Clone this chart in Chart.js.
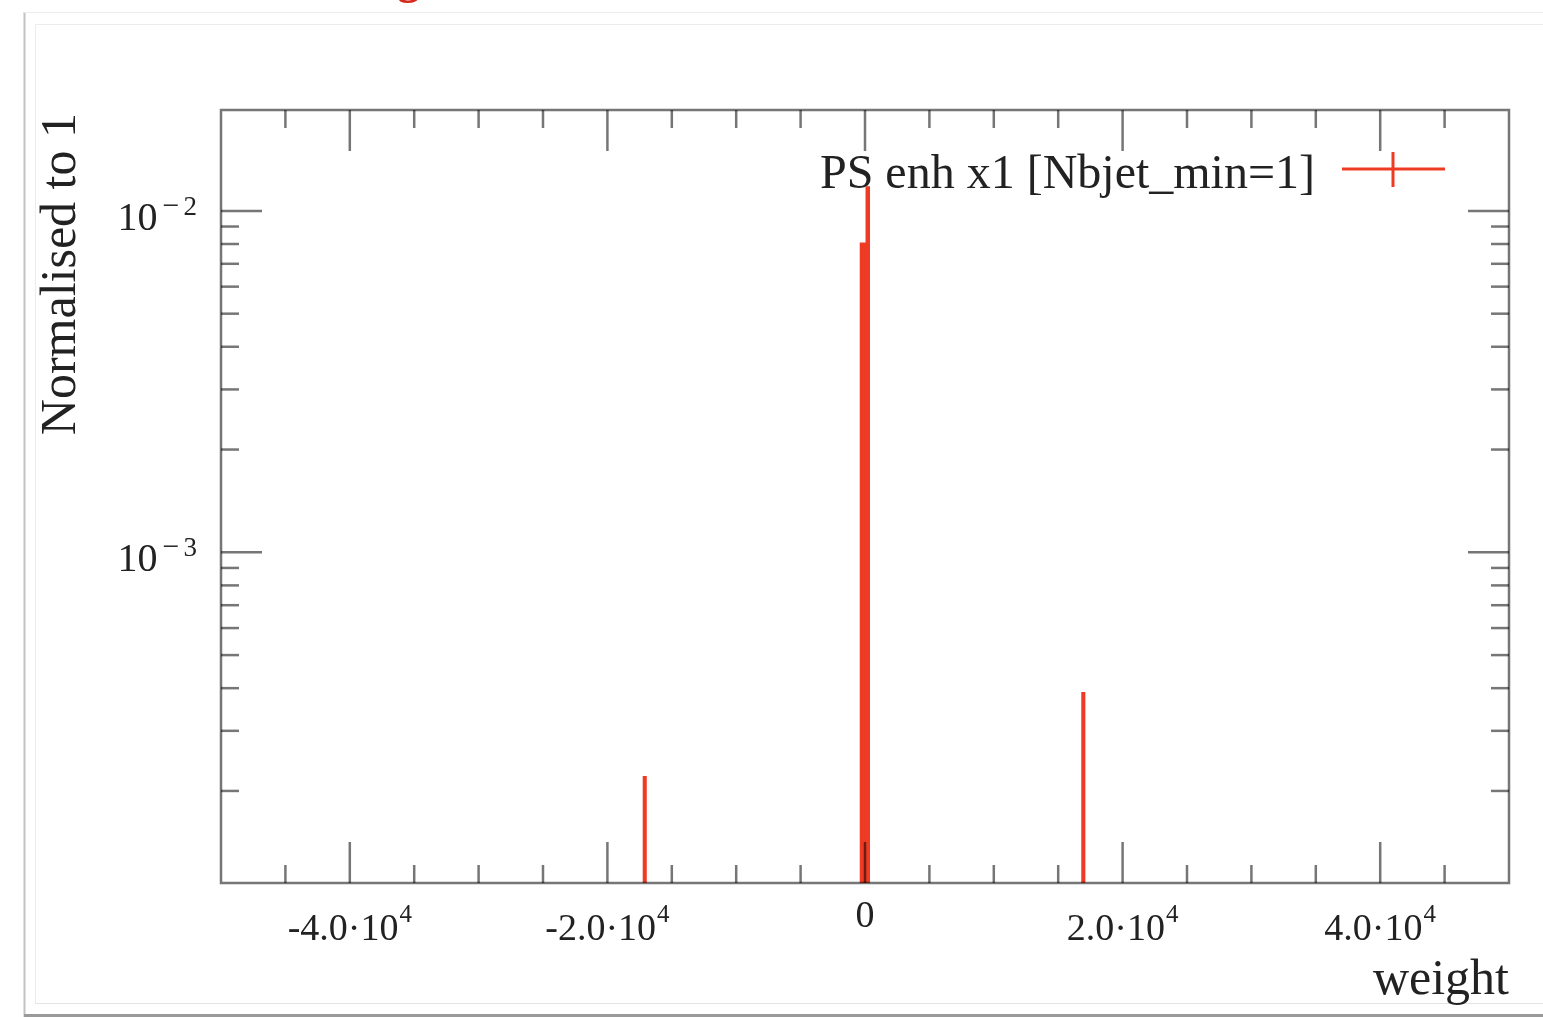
<!DOCTYPE html>
<html>
<head>
<meta charset="utf-8">
<script src="https://cdn.jsdelivr.net/npm/chart.js@4.4.1/dist/chart.umd.min.js"></script>
<style>
  html, body { margin: 0; padding: 0; background: #ffffff; }
  canvas { display: block; }
</style>
</head>
<body>
<canvas id="c" width="1543" height="1017"></canvas>
<script>
// ---- data ----
const seriesName = 'PS enh x1 [Nbjet_min=1]';
const binLo  = [-17150, -300, 150, 16900];
const binHi  = [-17050,  150, 280, 17000];
const binVal = [2.19e-4, 8.0e-3, 1.17e-2, 3.86e-4];

const xMajorTicks = [-40000, -20000, 0, 20000, 40000];
const xMajorLabels = [['-4.0·10', '4'], ['-2.0·10', '4'], ['0', ''], ['2.0·10', '4'], ['4.0·10', '4']];
const xMinorTicks = [-45000, -35000, -30000, -25000, -15000, -10000, -5000, 5000, 10000, 15000, 25000, 30000, 35000, 45000];
const yMajorTicks = [1e-3, 1e-2];
const yMajorLabels = [['10', '−', '3'], ['10', '−', '2']];
const yMinorTicks = [2e-4, 3e-4, 4e-4, 5e-4, 6e-4, 7e-4, 8e-4, 9e-4, 2e-3, 3e-3, 4e-3, 5e-3, 6e-3, 7e-3, 8e-3, 9e-3];
const xTitle = 'weight';
const yTitle = 'Normalised to 1';

const X_MIN = -50000, X_MAX = 50000;
const Y_MIN = 1.075e-4, Y_MAX = 1.975e-2;
const BASE = 1e-6;

function outline(lo, hi, val) {
  const pts = [];
  for (let i = 0; i < lo.length; i++) {
    pts.push({x: lo[i], y: BASE});
    pts.push({x: lo[i], y: val[i]});
    pts.push({x: hi[i], y: val[i]});
    pts.push({x: hi[i], y: BASE});
    pts.push({x: hi[i], y: null});
  }
  return pts;
}

const RED = '#ef3b24';
const FRAME = '#767676';
const SERIF = '"Liberation Serif", "DejaVu Serif", serif';

const decor = {
  id: 'decor',
  beforeDraw(chart) {
    const ctx = chart.ctx;
    ctx.save();
    ctx.fillStyle = '#ffffff';
    ctx.fillRect(0, 0, chart.width, chart.height);
    ctx.lineWidth = 2; ctx.strokeStyle = '#c2c2c2';
    ctx.beginPath(); ctx.moveTo(24.5, 12); ctx.lineTo(24.5, 1017); ctx.stroke();
    ctx.lineWidth = 1; ctx.strokeStyle = '#ececec';
    ctx.beginPath(); ctx.moveTo(24, 12.5); ctx.lineTo(1543, 12.5); ctx.stroke();
    ctx.beginPath(); ctx.moveTo(35.5, 24); ctx.lineTo(35.5, 1003); ctx.stroke();
    ctx.beginPath(); ctx.moveTo(35, 24.5); ctx.lineTo(1543, 24.5); ctx.stroke();
    ctx.strokeStyle = '#e4e4e4';
    ctx.beginPath(); ctx.moveTo(35, 1003.5); ctx.lineTo(1543, 1003.5); ctx.stroke();
    ctx.lineWidth = 3; ctx.strokeStyle = '#9a9a9a';
    ctx.beginPath(); ctx.moveTo(24, 1015.5); ctx.lineTo(1543, 1015.5); ctx.stroke();
    ctx.fillStyle = '#d42a1c';
    ctx.font = 'bold 46px ' + SERIF;
    ctx.textAlign = 'left'; ctx.textBaseline = 'alphabetic';
    ctx.fillText('g', 397, -7);
    ctx.restore();
  },
  afterDatasetsDraw(chart) {
    const {ctx, chartArea: a, scales: {x, y}} = chart;
    ctx.save();
    ctx.globalCompositeOperation = 'multiply';
    ctx.strokeStyle = FRAME;
    ctx.lineWidth = 2.5;
    ctx.lineCap = 'butt';
    const line = (x1, y1, x2, y2) => { ctx.beginPath(); ctx.moveTo(x1, y1); ctx.lineTo(x2, y2); ctx.stroke(); };
    const MAJ = 41, MIN = 18;
    xMajorTicks.forEach(v => { const p = x.getPixelForValue(v); line(p, a.bottom, p, a.bottom - MAJ); line(p, a.top, p, a.top + MAJ); });
    xMinorTicks.forEach(v => { const p = x.getPixelForValue(v); line(p, a.bottom, p, a.bottom - MIN); line(p, a.top, p, a.top + MIN); });
    yMajorTicks.forEach(v => { const p = y.getPixelForValue(v); line(a.left, p, a.left + MAJ, p); line(a.right, p, a.right - MAJ, p); });
    yMinorTicks.forEach(v => { const p = y.getPixelForValue(v); line(a.left, p, a.left + MIN, p); line(a.right, p, a.right - MIN, p); });
    ctx.strokeRect(a.left, a.top, a.right - a.left, a.bottom - a.top);
    ctx.globalCompositeOperation = 'source-over';

    ctx.fillStyle = '#222222';
    ctx.textBaseline = 'alphabetic';
    const mainF = '38px ' + SERIF, supF = '25px ' + SERIF;
    xMajorTicks.forEach((v, i) => {
      const p = x.getPixelForValue(v);
      const [m, e] = xMajorLabels[i];
      ctx.font = mainF; const wm = ctx.measureText(m).width;
      ctx.font = supF; const we = e ? ctx.measureText(e).width + 1 : 0;
      const start = p - (wm + we) / 2;
      ctx.textAlign = 'left';
      ctx.font = mainF;
      if (!e) { ctx.fillText(m, start, a.bottom + 44); return; }
      ctx.fillText(m, start, a.bottom + 57);
      ctx.font = supF; ctx.fillText(e, start + wm + 1, a.bottom + 39);
    });
    yMajorTicks.forEach((v, i) => {
      const p = y.getPixelForValue(v);
      const [m, sgn, e] = yMajorLabels[i];
      const supY = '27px ' + SERIF;
      const right = a.left - 24;
      ctx.textAlign = 'left';
      ctx.font = supY;
      const we = ctx.measureText(e).width;
      ctx.fillText(e, right - we, p + 4);
      ctx.font = '30px ' + SERIF;
      const ws = ctx.measureText(sgn).width;
      ctx.fillText(sgn, right - we - 4 - ws, p + 4);
      ctx.font = '40px ' + SERIF;
      const wm = ctx.measureText(m).width;
      ctx.fillText(m, right - we - 4 - ws - 5 - wm, p + 19);
    });
    ctx.font = '50px ' + SERIF;
    ctx.textAlign = 'right';
    ctx.fillText(xTitle, a.right, a.bottom + 111);
    ctx.save();
    ctx.translate(75, 113);
    ctx.rotate(-Math.PI / 2);
    ctx.font = '50px ' + SERIF;
    ctx.textAlign = 'right';
    ctx.fillText(yTitle, 0, 0);
    ctx.restore();
    ctx.font = '48px ' + SERIF;
    ctx.textAlign = 'right';
    ctx.fillText(chart.data.datasets[0].label, 1315, 188);
    ctx.strokeStyle = RED;
    ctx.lineWidth = 3;
    line(1342, 169, 1445, 169);
    line(1393, 152, 1393, 187);
    ctx.restore();
  }
};

new Chart(document.getElementById('c'), {
  type: 'line',
  data: {
    datasets: [
      { label: seriesName, data: outline(binLo, binHi, binVal), borderColor: RED, backgroundColor: RED,
        borderWidth: 2.8, pointRadius: 0, spanGaps: false, tension: 0, fill: 'start', clip: 0 }
    ]
  },
  options: {
    responsive: false,
    animation: false,
    devicePixelRatio: 1,
    layout: { padding: { left: 221, top: 110, right: 34, bottom: 134 } },
    plugins: { legend: { display: false }, tooltip: { enabled: false }, title: { display: false } },
    scales: {
      x: { type: 'linear', min: X_MIN, max: X_MAX, display: false },
      y: { type: 'logarithmic', min: Y_MIN, max: Y_MAX, display: false }
    }
  },
  plugins: [decor]
});
</script>
</body>
</html>
